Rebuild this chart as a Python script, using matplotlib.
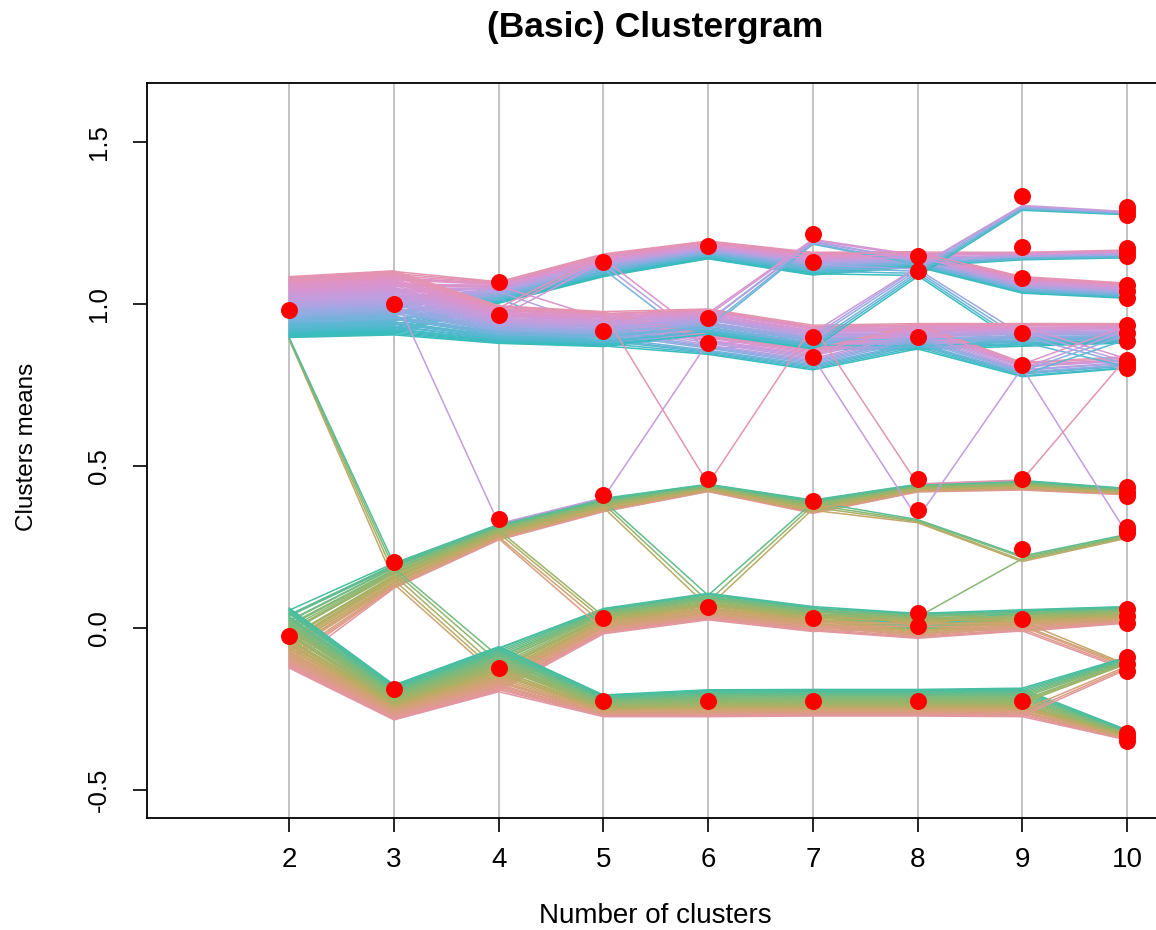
import numpy as np
import matplotlib
matplotlib.use("Agg")
import matplotlib.pyplot as plt

plt.rcParams['font.family'] = ['Liberation Sans', 'DejaVu Sans']

# ---------------- data ----------------
k_values = [2, 3, 4, 5, 6, 7, 8, 9, 10]

# red points: cluster means for every number of clusters k
centers_k2 = [0.982, -0.025]
centers_k3 = [1.000, 0.204, -0.188]
centers_k4 = [1.068, 0.966, 0.337, -0.125]
centers_k5 = [1.130, 0.918, 0.411, 0.030, -0.225]
centers_k6 = [1.180, 0.956, 0.881, 0.460, 0.064, -0.225]
centers_k7 = [1.217, 1.130, 0.897, 0.836, 0.392, 0.030, -0.225]
centers_k8 = [1.149, 1.102, 0.897, 0.460, 0.364, 0.045, 0.007, -0.225]
centers_k9 = [1.335, 1.175, 1.080, 0.910, 0.812, 0.460, 0.245, 0.027, -0.225]
centers_k10 = [1.300, 1.288, 1.276, 1.172, 1.160, 1.148, 1.058, 1.040, 1.019,
               0.935, 0.910, 0.885, 0.827, 0.815, 0.803, 0.435, 0.421, 0.407,
               0.312, 0.302, 0.293, 0.060, 0.038, 0.015, -0.090, -0.112,
               -0.134, -0.326, -0.338, -0.350]
centers = [centers_k2, centers_k3, centers_k4, centers_k5, centers_k6,
           centers_k7, centers_k8, centers_k9, centers_k10]

# extent (low, high) of the bundle of observation lines in each cluster
bands_k2 = [(0.889, 1.085), (-0.124, 0.061)]
bands_k3 = [(0.905, 1.103), (0.123, 0.200), (-0.284, -0.176)]
bands_k4 = [(1.003, 1.069), (0.879, 0.995), (0.272, 0.322), (-0.197, -0.058)]
bands_k5 = [(1.085, 1.155), (0.869, 0.977), (0.359, 0.402), (-0.018, 0.060),
            (-0.274, -0.207)]
bands_k6 = [(1.140, 1.195), (0.905, 0.985), (0.845, 0.905), (0.421, 0.445),
            (0.025, 0.107), (-0.274, -0.191)]
bands_k7 = [(1.185, 1.200), (1.090, 1.160), (0.860, 0.935), (0.797, 0.860),
            (0.354, 0.395), (-0.011, 0.066), (-0.272, -0.190)]
bands_k8 = [(1.115, 1.162), (1.085, 1.115), (0.860, 0.940), (0.420, 0.445),
            (0.325, 0.338), (0.000, 0.045), (-0.032, 0.000), (-0.272, -0.190)]
bands_k9 = [(1.290, 1.305), (1.137, 1.160), (1.034, 1.085), (0.870, 0.940),
            (0.776, 0.820), (0.426, 0.457), (0.205, 0.222), (-0.011, 0.056),
            (-0.274, -0.186)]
bands_k10 = [(1.276, 1.286), (1.143, 1.167), (1.018, 1.065), (0.880, 0.940),
             (0.802, 0.838), (0.411, 0.431), (0.277, 0.292), (0.015, 0.066),
             (-0.130, -0.090), (-0.346, -0.315)]
bands = [bands_k2, bands_k3, bands_k4, bands_k5, bands_k6,
         bands_k7, bands_k8, bands_k9, bands_k10]

# groups of observations: (cluster index at k=2..10, count, rank range)
# upper group: teal->blue->purple->pink ; lower group: pink->olive->green->teal
upper_paths = [
    ([0, 0, 0, 0, 0, 1, 0, 2, 2], 18, 0.00, 1.00),
    ([0, 0, 0, 0, 0, 1, 0, 1, 1], 10, 0.00, 1.00),
    ([0, 0, 0, 0, 0, 1, 1, 3, 3], 4, 0.00, 0.50),
    ([0, 0, 0, 0, 2, 2, 2, 3, 3], 3, 0.20, 0.90),
    ([0, 0, 0, 1, 1, 0, 0, 1, 1], 3, 0.10, 0.90),
    ([0, 0, 1, 1, 1, 2, 2, 3, 3], 22, 0.00, 1.00),
    ([0, 0, 1, 1, 2, 3, 2, 4, 4], 12, 0.00, 1.00),
    ([0, 0, 1, 1, 1, 2, 2, 3, 4], 4, 0.10, 0.90),
    ([0, 0, 1, 1, 2, 3, 2, 4, 3], 4, 0.10, 0.90),
    ([0, 0, 1, 1, 1, 0, 0, 2, 2], 3, 0.20, 0.80),
    ([0, 0, 1, 1, 1, 2, 1, 0, 0], 6, 0.00, 0.70),
    ([0, 0, 1, 0, 0, 1, 0, 2, 2], 3, 0.60, 1.00),
    ([0, 0, 2, 2, 2, 3, 4, 4, 6], 1, 0.60, 0.60),
    ([0, 0, 1, 1, 3, 2, 3, 5, 4], 1, 0.95, 0.95),
]
lower_paths = [
    ([1, 1, 2, 2, 3, 4, 3, 5, 5], 12, 0.00, 1.00),
    ([1, 1, 2, 2, 3, 4, 4, 6, 6], 4, 0.30, 0.95),
    ([1, 1, 2, 2, 4, 4, 3, 5, 5], 3, 0.35, 0.95),
    ([0, 1, 2, 2, 3, 4, 3, 5, 5], 4, 0.30, 1.00),
    ([1, 2, 3, 3, 4, 5, 5, 7, 7], 16, 0.00, 1.00),
    ([1, 2, 3, 3, 4, 5, 6, 7, 7], 8, 0.00, 1.00),
    ([1, 2, 3, 3, 4, 5, 6, 7, 8], 5, 0.00, 0.40),
    ([1, 2, 3, 3, 4, 5, 5, 6, 6], 1, 0.70, 0.70),
    ([1, 1, 2, 3, 4, 5, 5, 7, 7], 4, 0.10, 0.70),
    ([1, 1, 3, 3, 4, 5, 5, 7, 7], 3, 0.20, 0.90),
    ([1, 1, 3, 4, 5, 6, 7, 8, 9], 2, 0.30, 0.80),
    ([1, 2, 3, 4, 5, 6, 7, 8, 9], 22, 0.00, 1.00),
    ([1, 2, 3, 4, 5, 6, 7, 8, 8], 10, 0.55, 1.00),
    ([1, 2, 3, 4, 5, 6, 7, 8, 8], 3, 0.00, 0.30),
]

y_ticks = [-0.5, 0.0, 0.5, 1.0, 1.5]
y_tick_labels = ["-0.5", "0.0", "0.5", "1.0", "1.5"]


# ---------------- colours (rainbow_hcl, c=50, l=70) ----------------
def hcl_to_hex(h, c=50.0, l=70.0):
    hr = np.deg2rad(h)
    u, v = c * np.cos(hr), c * np.sin(hr)
    Xn, Yn, Zn = 95.047, 100.0, 108.883
    Y = Yn * ((l + 16) / 116) ** 3
    den = Xn + 15 * Yn + 3 * Zn
    un, vn = 4 * Xn / den, 9 * Yn / den
    up, vp = u / (13 * l) + un, v / (13 * l) + vn
    X = 9 * Y * up / (4 * vp)
    Z = -X / 3 - 5 * Y + 3 * Y / vp
    X, Y, Z = X / 100, Y / 100, Z / 100
    rgb = np.array([3.240479 * X - 1.537150 * Y - 0.498535 * Z,
                    -0.969256 * X + 1.875992 * Y + 0.041556 * Z,
                    0.055648 * X - 0.204043 * Y + 1.057311 * Z])
    rgb = np.where(rgb <= 0.0031308, 12.92 * rgb,
                   1.055 * np.clip(rgb, 0, None) ** (1 / 2.4) - 0.055)
    return tuple(np.clip(rgb, 0, 1))


# ---------------- build observation lines ----------------
obs = []  # (group order, rank, path)
for path, n, lo, hi in lower_paths:
    for j in range(n):
        obs.append((0, lo + (hi - lo) * (j + 0.5) / n, path))
for path, n, lo, hi in upper_paths:
    for j in range(n):
        obs.append((1, lo + (hi - lo) * (j + 0.5) / n, path))

n_obs = len(obs)
Y = np.zeros((n_obs, len(k_values)))
for ki in range(len(k_values)):
    members = {}
    for i, (g, r, path) in enumerate(obs):
        members.setdefault(path[ki], []).append(i)
    for c, idx in members.items():
        idx = sorted(idx, key=lambda i: (obs[i][0], obs[i][1], i))
        lo, hi = bands[ki][c]
        m = len(idx)
        for pos, i in enumerate(idx):
            q = pos / (m - 1) if m > 1 else 0.5
            Y[i, ki] = lo + (hi - lo) * q

colors = []
for g, r, path in obs:
    hue = (185 + 170 * r) if g == 1 else (0 + 170 * r)
    colors.append(hcl_to_hex(hue))

# ---------------- plot ----------------
fig = plt.figure(figsize=(11.56, 9.30), dpi=100)
ax = fig.add_axes([147 / 1156, 112 / 930, (1164.6 - 147) / 1156, 735 / 930])

ax.set_xlim(0.64, 10.36)
ax.set_ylim(-0.587, 1.683)

ax.grid(axis='x', color='#BEBEBE', linewidth=1.3, zorder=0)
ax.set_axisbelow(True)

for i in range(n_obs):
    ax.plot(k_values, Y[i], color=colors[i], linewidth=1.1, zorder=2,
            solid_joinstyle='miter')

for k, cs in zip(k_values, centers):
    ax.scatter([k] * len(cs), cs, s=150, color='#FF0000', linewidths=0,
               zorder=5)

ax.set_xticks(k_values)
ax.set_xticklabels([str(k) for k in k_values], fontsize=20)
ax.set_yticks(y_ticks)
ax.set_yticklabels(y_tick_labels, fontsize=18.5, rotation=90, va='center')
ax.tick_params(axis='x', length=10, width=1.2, pad=11)
ax.tick_params(axis='y', length=10, width=1.2, pad=16)
for s in ax.spines.values():
    s.set_linewidth(1.3)

fig.text(655 / 1156, 1 - 27 / 930, "(Basic) Clustergram", ha='center',
         va='center', fontsize=25.5, fontweight='bold')
fig.text(655 / 1156, 1 - 916 / 930, "Number of clusters", ha='center',
         va='center', fontsize=20)
fig.text(27 / 1156, 1 - 447 / 930, "Clusters means", ha='center',
         va='center', rotation=90, fontsize=17.5)

fig.savefig("out.png", dpi=100)
